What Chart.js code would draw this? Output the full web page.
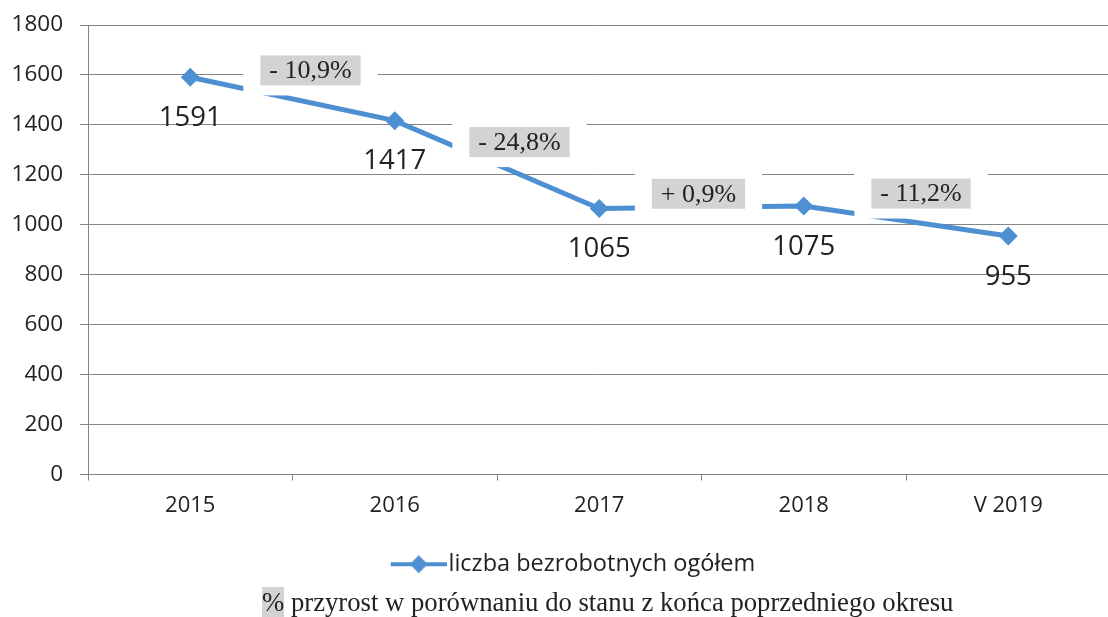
<!DOCTYPE html>
<html><head><meta charset="utf-8">
<script src="https://cdn.jsdelivr.net/npm/chart.js@4"></script>
<style>
html,body{margin:0;padding:0;background:#fff;overflow:hidden;width:1108px;height:617px;}
#wrap{position:absolute;left:0;top:0;width:1120px;height:617px;}
#foot{position:absolute;left:262px;top:587px;font-family:"Liberation Serif","Times New Roman",serif;font-size:26.7px;line-height:30px;color:#222;white-space:nowrap;}
#foot .pct{background:#d3d3d3;}
</style></head>
<body>
<div id="wrap"><canvas id="c" width="1120" height="617"></canvas></div>
<div id="foot"><span class="pct">%</span> przyrost w porównaniu do stanu z końca poprzedniego okresu</div>
<script>
const categories = ['2015', '2016', '2017', '2018', 'V 2019'];
const unemployed = [1591, 1417, 1065, 1075, 955];
const changeLabels = ['- 10,9%', '- 24,8%', '+ 0,9%', '- 11,2%'];
const yTicks = [0, 200, 400, 600, 800, 1000, 1200, 1400, 1600, 1800];
const seriesName = 'liczba bezrobotnych ogółem';

const BLUE = '#4d8fd1';
const GRID = '#858585';
const TXT = '#222';

// legend sample: line with diamond
const legendImg = document.createElement('canvas');
legendImg.width = 94; legendImg.height = 22;
(function(){
  const g = legendImg.getContext('2d');
  g.strokeStyle = BLUE; g.lineWidth = 4;
  g.beginPath(); g.moveTo(94 - 56, 11); g.lineTo(94, 11); g.stroke();
  g.fillStyle = BLUE;
  const cx = 94 - 28, cy = 11, r = 9;
  g.beginPath(); g.moveTo(cx, cy - r); g.lineTo(cx + r, cy); g.lineTo(cx, cy + r); g.lineTo(cx - r, cy); g.closePath(); g.fill();
})();

const annot = {
  id: 'annot',
  afterDatasetsDraw(chart, args, opts) {
    const ctx = chart.ctx;
    const xs = chart.scales.x, ys = chart.scales.y;
    ctx.save();
    ctx.font = opts.pctFont;
    ctx.textAlign = 'center';
    ctx.textBaseline = 'middle';
    changeLabels.forEach((t, i) => {
      const x0 = xs.getPixelForValue(i), x1 = xs.getPixelForValue(i + 1);
      const y0 = ys.getPixelForValue(unemployed[i]), y1 = ys.getPixelForValue(unemployed[i + 1]);
      const off = opts.pctOffsets[i];
      const cx = (x0 + x1) / 2 + off[0], cy = (y0 + y1) / 2 + off[1];
      const w = ctx.measureText(t).width + 2 * opts.padX, h = opts.boxH;
      ctx.fillStyle = '#fff';
      ctx.fillRect(cx - w / 2 - opts.maskX, cy - h / 2 - opts.maskY, w + 2 * opts.maskX, h + 2 * opts.maskY);
      ctx.fillStyle = '#d3d3d3';
      ctx.fillRect(cx - w / 2, cy - h / 2, w, h);
      ctx.fillStyle = TXT;
      ctx.fillText(t, cx, cy + 1);
    });
    ctx.font = opts.valFont;
    ctx.fillStyle = TXT;
    const meta = chart.getDatasetMeta(0);
    meta.data.forEach((pt, i) => {
      ctx.fillText(String(unemployed[i]), pt.x, pt.y + opts.valOffset);
    });
    ctx.restore();
  }
};

new Chart(document.getElementById('c'), {
  type: 'line',
  data: {
    labels: categories,
    datasets: [{
      label: seriesName,
      data: unemployed,
      borderColor: BLUE,
      backgroundColor: BLUE,
      borderWidth: 5,
      tension: 0,
      pointStyle: 'rectRot',
      pointRadius: 9.5,
      pointHoverRadius: 9.5,
      pointBorderWidth: 0,
      pointBackgroundColor: BLUE
    }]
  },
  options: {
    responsive: false,
    animation: false,
    devicePixelRatio: 1,
    layout: { padding: { top: 25, right: 2, left: 0, bottom: 31 } },
    scales: {
      x: {
        offset: true,
        grid: { display: true, drawOnChartArea: false, drawTicks: true, tickLength: 6, offset: true, color: GRID },
        border: { display: true, color: GRID, width: 1 },
        ticks: { color: TXT, font: { family: 'Open Sans', size: 22 }, padding: 12, maxRotation: 0 },
        afterFit(s) { s.height = 68; }
      },
      y: {
        min: yTicks[0],
        max: yTicks[yTicks.length - 1],
        grid: { color: GRID, lineWidth: 1, tickLength: 8, drawTicks: true },
        border: { display: true, color: GRID, width: 1 },
        afterBuildTicks(s) { s.ticks = yTicks.map(v => ({ value: v })); },
        ticks: { color: TXT, font: { family: 'Open Sans', size: 22.5 }, padding: 17, callback: v => String(v) },
        afterFit(s) { s.width = 88; s.paddingTop = 0; s.paddingBottom = 0; }
      }
    },
    plugins: {
      legend: {
        position: 'bottom',
        labels: {
          usePointStyle: true,
          pointStyleWidth: 74,
          color: TXT,
          font: { family: 'Open Sans', size: 23.5 },
          padding: 10,
          generateLabels(chart) {
            return [{ text: seriesName, pointStyle: legendImg, fillStyle: BLUE, strokeStyle: BLUE, lineWidth: 0, hidden: false, datasetIndex: 0, fontColor: TXT }];
          }
        }
      },
      tooltip: { enabled: false },
      annot: {
        pctFont: '26px "Liberation Serif", "Times New Roman", serif',
        valFont: '27.5px "Open Sans", sans-serif',
        padX: 9,
        boxH: 30,
        maskX: 17,
        maskY: 10,
        valOffset: 41,
        pctOffsets: [[18, -28.5], [22.5, -22.5], [-3, -13.5], [15, -27.5]]
      }
    }
  },
  plugins: [annot]
});
</script>
</body></html>
